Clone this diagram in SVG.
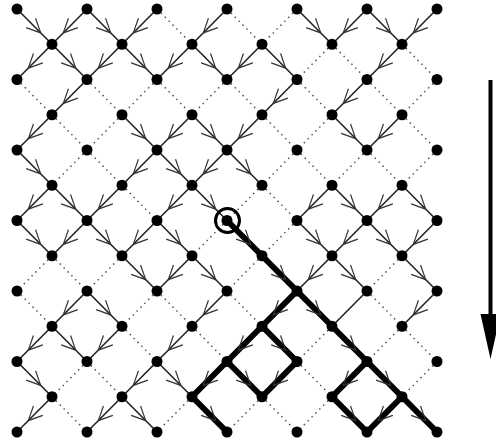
<svg xmlns="http://www.w3.org/2000/svg" width="496" height="441" viewBox="0 0 496 441">
<style>
line{fill:none}
.d{stroke:#555;stroke-width:1.5;stroke-dasharray:1.5 4}
.s{stroke:#222;stroke-width:1.6;marker-end:url(#a)}
.s0{stroke:#222;stroke-width:1.6}
.t{stroke:#000;stroke-width:6;stroke-linecap:round;marker-end:url(#a)}
.n circle{fill:#000}
</style>
<defs>
<marker id="a" markerUnits="userSpaceOnUse" markerWidth="60" markerHeight="30" refX="50" refY="15" orient="auto" overflow="visible">
<path d="M20 8.4 L34 15 L20 21.6" fill="none" stroke="#333" stroke-width="1.2"/>
</marker>
</defs>
<rect width="496" height="441" fill="#fff"/>
<g id="connectors">
<line class="d" x1="157" y1="9" x2="192" y2="44.25"/>
<line class="d" x1="227" y1="9" x2="262" y2="44.25"/>
<line class="d" x1="297" y1="9" x2="262" y2="44.25"/>
<line class="d" x1="332" y1="44.25" x2="297" y2="79.5"/>
<line class="d" x1="332" y1="44.25" x2="367" y2="79.5"/>
<line class="d" x1="402" y1="44.25" x2="437" y2="79.5"/>
<line class="d" x1="17" y1="79.5" x2="52" y2="114.75"/>
<line class="d" x1="87" y1="79.5" x2="122" y2="114.75"/>
<line class="d" x1="157" y1="79.5" x2="122" y2="114.75"/>
<line class="d" x1="157" y1="79.5" x2="192" y2="114.75"/>
<line class="d" x1="227" y1="79.5" x2="192" y2="114.75"/>
<line class="d" x1="227" y1="79.5" x2="262" y2="114.75"/>
<line class="d" x1="297" y1="79.5" x2="332" y2="114.75"/>
<line class="d" x1="367" y1="79.5" x2="402" y2="114.75"/>
<line class="d" x1="437" y1="79.5" x2="402" y2="114.75"/>
<line class="d" x1="52" y1="114.75" x2="87" y2="150"/>
<line class="d" x1="122" y1="114.75" x2="87" y2="150"/>
<line class="d" x1="262" y1="114.75" x2="297" y2="150"/>
<line class="d" x1="332" y1="114.75" x2="297" y2="150"/>
<line class="d" x1="402" y1="114.75" x2="437" y2="150"/>
<line class="d" x1="87" y1="150" x2="52" y2="185.25"/>
<line class="d" x1="87" y1="150" x2="122" y2="185.25"/>
<line class="d" x1="297" y1="150" x2="262" y2="185.25"/>
<line class="d" x1="297" y1="150" x2="332" y2="185.25"/>
<line class="d" x1="367" y1="150" x2="332" y2="185.25"/>
<line class="d" x1="367" y1="150" x2="402" y2="185.25"/>
<line class="d" x1="437" y1="150" x2="402" y2="185.25"/>
<line class="d" x1="122" y1="185.25" x2="157" y2="220.5"/>
<line class="d" x1="262" y1="185.25" x2="227" y2="220.5"/>
<line class="d" x1="262" y1="185.25" x2="297" y2="220.5"/>
<line class="d" x1="227" y1="220.5" x2="192" y2="255.75"/>
<line class="d" x1="297" y1="220.5" x2="262" y2="255.75"/>
<line class="d" x1="52" y1="255.75" x2="17" y2="291"/>
<line class="d" x1="52" y1="255.75" x2="87" y2="291"/>
<line class="d" x1="122" y1="255.75" x2="87" y2="291"/>
<line class="d" x1="262" y1="255.75" x2="227" y2="291"/>
<line class="d" x1="402" y1="255.75" x2="367" y2="291"/>
<line class="d" x1="17" y1="291" x2="52" y2="326.25"/>
<line class="d" x1="157" y1="291" x2="122" y2="326.25"/>
<line class="d" x1="157" y1="291" x2="192" y2="326.25"/>
<line class="d" x1="227" y1="291" x2="262" y2="326.25"/>
<line class="d" x1="367" y1="291" x2="402" y2="326.25"/>
<line class="d" x1="122" y1="326.25" x2="157" y2="361.5"/>
<line class="d" x1="192" y1="326.25" x2="227" y2="361.5"/>
<line class="d" x1="332" y1="326.25" x2="297" y2="361.5"/>
<line class="d" x1="402" y1="326.25" x2="367" y2="361.5"/>
<line class="d" x1="402" y1="326.25" x2="437" y2="361.5"/>
<line class="d" x1="87" y1="361.5" x2="52" y2="396.75"/>
<line class="d" x1="87" y1="361.5" x2="122" y2="396.75"/>
<line class="d" x1="297" y1="361.5" x2="332" y2="396.75"/>
<line class="d" x1="437" y1="361.5" x2="402" y2="396.75"/>
<line class="d" x1="52" y1="396.75" x2="87" y2="432"/>
<line class="d" x1="192" y1="396.75" x2="157" y2="432"/>
<line class="d" x1="262" y1="396.75" x2="227" y2="432"/>
<line class="d" x1="262" y1="396.75" x2="297" y2="432"/>
<line class="d" x1="332" y1="396.75" x2="297" y2="432"/>
<line class="s" x1="17" y1="9" x2="52" y2="44.25"/>
<line class="s" x1="87" y1="9" x2="52" y2="44.25"/>
<line class="s" x1="87" y1="9" x2="122" y2="44.25"/>
<line class="s" x1="157" y1="9" x2="122" y2="44.25"/>
<line class="s" x1="227" y1="9" x2="192" y2="44.25"/>
<line class="s" x1="297" y1="9" x2="332" y2="44.25"/>
<line class="s" x1="367" y1="9" x2="332" y2="44.25"/>
<line class="s" x1="367" y1="9" x2="402" y2="44.25"/>
<line class="s" x1="437" y1="9" x2="402" y2="44.25"/>
<line class="s" x1="52" y1="44.25" x2="17" y2="79.5"/>
<line class="s" x1="52" y1="44.25" x2="87" y2="79.5"/>
<line class="s" x1="122" y1="44.25" x2="87" y2="79.5"/>
<line class="s" x1="122" y1="44.25" x2="157" y2="79.5"/>
<line class="s" x1="192" y1="44.25" x2="157" y2="79.5"/>
<line class="s" x1="192" y1="44.25" x2="227" y2="79.5"/>
<line class="s" x1="262" y1="44.25" x2="227" y2="79.5"/>
<line class="s" x1="262" y1="44.25" x2="297" y2="79.5"/>
<line class="s" x1="402" y1="44.25" x2="367" y2="79.5"/>
<line class="s" x1="87" y1="79.5" x2="52" y2="114.75"/>
<line class="s" x1="297" y1="79.5" x2="262" y2="114.75"/>
<line class="s" x1="367" y1="79.5" x2="332" y2="114.75"/>
<line class="s" x1="52" y1="114.75" x2="17" y2="150"/>
<line class="s" x1="122" y1="114.75" x2="157" y2="150"/>
<line class="s" x1="192" y1="114.75" x2="157" y2="150"/>
<line class="s" x1="192" y1="114.75" x2="227" y2="150"/>
<line class="s" x1="262" y1="114.75" x2="227" y2="150"/>
<line class="s" x1="332" y1="114.75" x2="367" y2="150"/>
<line class="s" x1="402" y1="114.75" x2="367" y2="150"/>
<line class="s" x1="17" y1="150" x2="52" y2="185.25"/>
<line class="s" x1="157" y1="150" x2="122" y2="185.25"/>
<line class="s" x1="157" y1="150" x2="192" y2="185.25"/>
<line class="s" x1="227" y1="150" x2="192" y2="185.25"/>
<line class="s" x1="227" y1="150" x2="262" y2="185.25"/>
<line class="s" x1="52" y1="185.25" x2="17" y2="220.5"/>
<line class="s" x1="52" y1="185.25" x2="87" y2="220.5"/>
<line class="s" x1="122" y1="185.25" x2="87" y2="220.5"/>
<line class="s" x1="192" y1="185.25" x2="157" y2="220.5"/>
<line class="s" x1="192" y1="185.25" x2="227" y2="220.5"/>
<line class="s" x1="332" y1="185.25" x2="297" y2="220.5"/>
<line class="s" x1="332" y1="185.25" x2="367" y2="220.5"/>
<line class="s" x1="402" y1="185.25" x2="367" y2="220.5"/>
<line class="s" x1="402" y1="185.25" x2="437" y2="220.5"/>
<line class="s" x1="17" y1="220.5" x2="52" y2="255.75"/>
<line class="s" x1="87" y1="220.5" x2="52" y2="255.75"/>
<line class="s" x1="87" y1="220.5" x2="122" y2="255.75"/>
<line class="s" x1="157" y1="220.5" x2="122" y2="255.75"/>
<line class="s" x1="157" y1="220.5" x2="192" y2="255.75"/>
<line class="s" x1="297" y1="220.5" x2="332" y2="255.75"/>
<line class="s" x1="367" y1="220.5" x2="332" y2="255.75"/>
<line class="s" x1="367" y1="220.5" x2="402" y2="255.75"/>
<line class="s" x1="437" y1="220.5" x2="402" y2="255.75"/>
<line class="s" x1="122" y1="255.75" x2="157" y2="291"/>
<line class="s" x1="192" y1="255.75" x2="157" y2="291"/>
<line class="s" x1="192" y1="255.75" x2="227" y2="291"/>
<line class="s" x1="332" y1="255.75" x2="297" y2="291"/>
<line class="s" x1="332" y1="255.75" x2="367" y2="291"/>
<line class="s" x1="402" y1="255.75" x2="437" y2="291"/>
<line class="s" x1="87" y1="291" x2="52" y2="326.25"/>
<line class="s" x1="87" y1="291" x2="122" y2="326.25"/>
<line class="s" x1="227" y1="291" x2="192" y2="326.25"/>
<line class="s0" x1="367" y1="291" x2="332" y2="326.25"/>
<line class="s" x1="437" y1="291" x2="402" y2="326.25"/>
<line class="s" x1="52" y1="326.25" x2="17" y2="361.5"/>
<line class="s" x1="52" y1="326.25" x2="87" y2="361.5"/>
<line class="s" x1="122" y1="326.25" x2="87" y2="361.5"/>
<line class="s" x1="192" y1="326.25" x2="157" y2="361.5"/>
<line class="s" x1="17" y1="361.5" x2="52" y2="396.75"/>
<line class="s" x1="157" y1="361.5" x2="122" y2="396.75"/>
<line class="s" x1="157" y1="361.5" x2="192" y2="396.75"/>
<line class="s" x1="52" y1="396.75" x2="17" y2="432"/>
<line class="s" x1="122" y1="396.75" x2="87" y2="432"/>
<line class="s" x1="122" y1="396.75" x2="157" y2="432"/>
<line class="t" x1="227" y1="220.5" x2="262" y2="255.75"/>
<line class="t" x1="262" y1="255.75" x2="297" y2="291"/>
<line class="t" x1="297" y1="291" x2="262" y2="326.25"/>
<line class="t" x1="297" y1="291" x2="332" y2="326.25"/>
<line class="t" x1="262" y1="326.25" x2="227" y2="361.5"/>
<line class="t" x1="262" y1="326.25" x2="297" y2="361.5"/>
<line class="t" x1="332" y1="326.25" x2="367" y2="361.5"/>
<line class="t" x1="227" y1="361.5" x2="192" y2="396.75"/>
<line class="t" x1="227" y1="361.5" x2="262" y2="396.75"/>
<line class="t" x1="297" y1="361.5" x2="262" y2="396.75"/>
<line class="t" x1="367" y1="361.5" x2="332" y2="396.75"/>
<line class="t" x1="367" y1="361.5" x2="402" y2="396.75"/>
<line class="t" x1="192" y1="396.75" x2="227" y2="432"/>
<line class="t" x1="332" y1="396.75" x2="367" y2="432"/>
<line class="t" x1="402" y1="396.75" x2="367" y2="432"/>
<line class="t" x1="402" y1="396.75" x2="437" y2="432"/>
</g>
<g class="n">
<g id="n0_0"><circle cx="17" cy="9" r="5.5"/></g>
<g id="n2_0"><circle cx="87" cy="9" r="5.5"/></g>
<g id="n4_0"><circle cx="157" cy="9" r="5.5"/></g>
<g id="n6_0"><circle cx="227" cy="9" r="5.5"/></g>
<g id="n8_0"><circle cx="297" cy="9" r="5.5"/></g>
<g id="n10_0"><circle cx="367" cy="9" r="5.5"/></g>
<g id="n12_0"><circle cx="437" cy="9" r="5.5"/></g>
<g id="n1_1"><circle cx="52" cy="44.25" r="5.5"/></g>
<g id="n3_1"><circle cx="122" cy="44.25" r="5.5"/></g>
<g id="n5_1"><circle cx="192" cy="44.25" r="5.5"/></g>
<g id="n7_1"><circle cx="262" cy="44.25" r="5.5"/></g>
<g id="n9_1"><circle cx="332" cy="44.25" r="5.5"/></g>
<g id="n11_1"><circle cx="402" cy="44.25" r="5.5"/></g>
<g id="n0_2"><circle cx="17" cy="79.5" r="5.5"/></g>
<g id="n2_2"><circle cx="87" cy="79.5" r="5.5"/></g>
<g id="n4_2"><circle cx="157" cy="79.5" r="5.5"/></g>
<g id="n6_2"><circle cx="227" cy="79.5" r="5.5"/></g>
<g id="n8_2"><circle cx="297" cy="79.5" r="5.5"/></g>
<g id="n10_2"><circle cx="367" cy="79.5" r="5.5"/></g>
<g id="n12_2"><circle cx="437" cy="79.5" r="5.5"/></g>
<g id="n1_3"><circle cx="52" cy="114.75" r="5.5"/></g>
<g id="n3_3"><circle cx="122" cy="114.75" r="5.5"/></g>
<g id="n5_3"><circle cx="192" cy="114.75" r="5.5"/></g>
<g id="n7_3"><circle cx="262" cy="114.75" r="5.5"/></g>
<g id="n9_3"><circle cx="332" cy="114.75" r="5.5"/></g>
<g id="n11_3"><circle cx="402" cy="114.75" r="5.5"/></g>
<g id="n0_4"><circle cx="17" cy="150" r="5.5"/></g>
<g id="n2_4"><circle cx="87" cy="150" r="5.5"/></g>
<g id="n4_4"><circle cx="157" cy="150" r="5.5"/></g>
<g id="n6_4"><circle cx="227" cy="150" r="5.5"/></g>
<g id="n8_4"><circle cx="297" cy="150" r="5.5"/></g>
<g id="n10_4"><circle cx="367" cy="150" r="5.5"/></g>
<g id="n12_4"><circle cx="437" cy="150" r="5.5"/></g>
<g id="n1_5"><circle cx="52" cy="185.25" r="5.5"/></g>
<g id="n3_5"><circle cx="122" cy="185.25" r="5.5"/></g>
<g id="n5_5"><circle cx="192" cy="185.25" r="5.5"/></g>
<g id="n7_5"><circle cx="262" cy="185.25" r="5.5"/></g>
<g id="n9_5"><circle cx="332" cy="185.25" r="5.5"/></g>
<g id="n11_5"><circle cx="402" cy="185.25" r="5.5"/></g>
<g id="n0_6"><circle cx="17" cy="220.5" r="5.5"/></g>
<g id="n2_6"><circle cx="87" cy="220.5" r="5.5"/></g>
<g id="n4_6"><circle cx="157" cy="220.5" r="5.5"/></g>
<g id="n6_6"><circle cx="227" cy="220.5" r="5.5"/><circle cx="227.5" cy="220.5" r="12" stroke="#000" stroke-width="3" style="fill:none"/></g>
<g id="n8_6"><circle cx="297" cy="220.5" r="5.5"/></g>
<g id="n10_6"><circle cx="367" cy="220.5" r="5.5"/></g>
<g id="n12_6"><circle cx="437" cy="220.5" r="5.5"/></g>
<g id="n1_7"><circle cx="52" cy="255.75" r="5.5"/></g>
<g id="n3_7"><circle cx="122" cy="255.75" r="5.5"/></g>
<g id="n5_7"><circle cx="192" cy="255.75" r="5.5"/></g>
<g id="n7_7"><circle cx="262" cy="255.75" r="5.5"/></g>
<g id="n9_7"><circle cx="332" cy="255.75" r="5.5"/></g>
<g id="n11_7"><circle cx="402" cy="255.75" r="5.5"/></g>
<g id="n0_8"><circle cx="17" cy="291" r="5.5"/></g>
<g id="n2_8"><circle cx="87" cy="291" r="5.5"/></g>
<g id="n4_8"><circle cx="157" cy="291" r="5.5"/></g>
<g id="n6_8"><circle cx="227" cy="291" r="5.5"/></g>
<g id="n8_8"><circle cx="297" cy="291" r="5.5"/></g>
<g id="n10_8"><circle cx="367" cy="291" r="5.5"/></g>
<g id="n12_8"><circle cx="437" cy="291" r="5.5"/></g>
<g id="n1_9"><circle cx="52" cy="326.25" r="5.5"/></g>
<g id="n3_9"><circle cx="122" cy="326.25" r="5.5"/></g>
<g id="n5_9"><circle cx="192" cy="326.25" r="5.5"/></g>
<g id="n7_9"><circle cx="262" cy="326.25" r="5.5"/></g>
<g id="n9_9"><circle cx="332" cy="326.25" r="5.5"/></g>
<g id="n11_9"><circle cx="402" cy="326.25" r="5.5"/></g>
<g id="n0_10"><circle cx="17" cy="361.5" r="5.5"/></g>
<g id="n2_10"><circle cx="87" cy="361.5" r="5.5"/></g>
<g id="n4_10"><circle cx="157" cy="361.5" r="5.5"/></g>
<g id="n6_10"><circle cx="227" cy="361.5" r="5.5"/></g>
<g id="n8_10"><circle cx="297" cy="361.5" r="5.5"/></g>
<g id="n10_10"><circle cx="367" cy="361.5" r="5.5"/></g>
<g id="n12_10"><circle cx="437" cy="361.5" r="5.5"/></g>
<g id="n1_11"><circle cx="52" cy="396.75" r="5.5"/></g>
<g id="n3_11"><circle cx="122" cy="396.75" r="5.5"/></g>
<g id="n5_11"><circle cx="192" cy="396.75" r="5.5"/></g>
<g id="n7_11"><circle cx="262" cy="396.75" r="5.5"/></g>
<g id="n9_11"><circle cx="332" cy="396.75" r="5.5"/></g>
<g id="n11_11"><circle cx="402" cy="396.75" r="5.5"/></g>
<g id="n0_12"><circle cx="17" cy="432" r="5.5"/></g>
<g id="n2_12"><circle cx="87" cy="432" r="5.5"/></g>
<g id="n4_12"><circle cx="157" cy="432" r="5.5"/></g>
<g id="n6_12"><circle cx="227" cy="432" r="5.5"/></g>
<g id="n8_12"><circle cx="297" cy="432" r="5.5"/></g>
<g id="n10_12"><circle cx="367" cy="432" r="5.5"/></g>
<g id="n12_12"><circle cx="437" cy="432" r="5.5"/></g>
</g>
<g id="time-arrow">
<line x1="490.5" y1="80" x2="490.5" y2="320" stroke="#000" stroke-width="4"/>
<polygon points="480.5,314 500.5,314 490.5,359" fill="#000"/>
</g>
</svg>
